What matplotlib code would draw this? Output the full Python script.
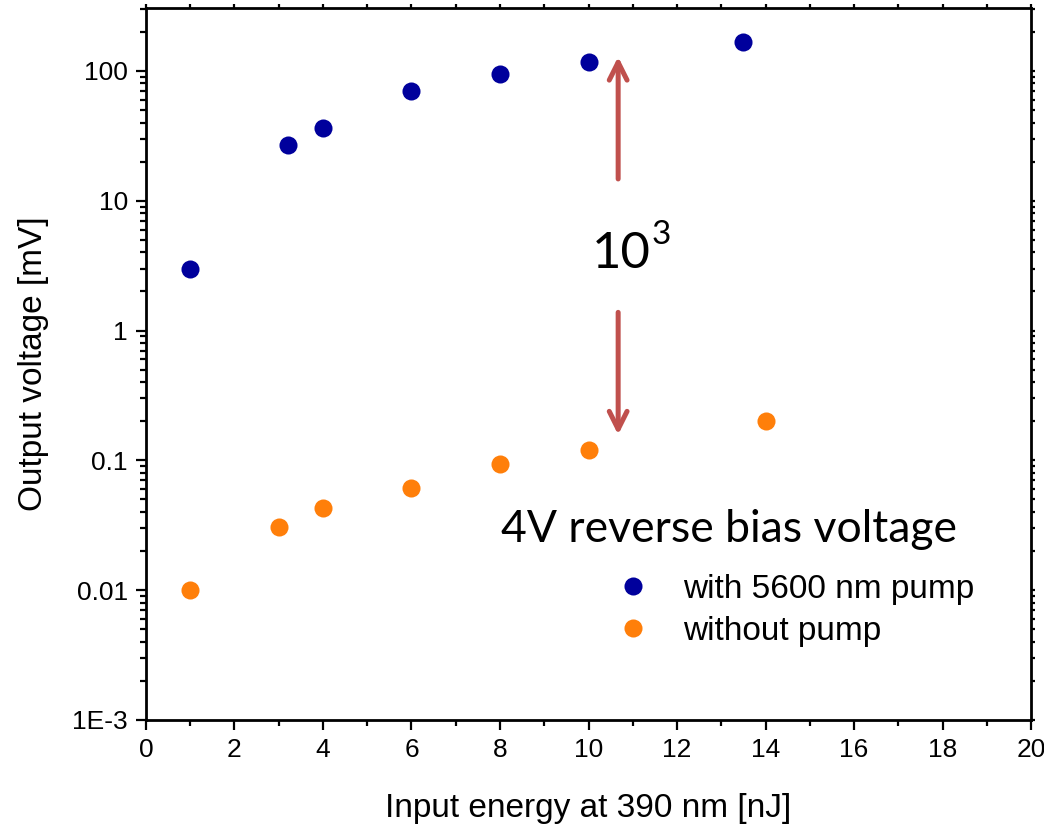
import matplotlib
matplotlib.use("Agg")
import matplotlib.pyplot as plt
from matplotlib.ticker import FixedLocator, FixedFormatter, LogLocator, NullFormatter, MultipleLocator

plt.rcParams['font.family'] = ['Liberation Sans', 'DejaVu Sans']

# Data
x_pump = [1, 3.2, 4, 6, 8, 10, 13.5]
y_pump = [3.0, 27, 36.5, 70, 95, 117, 167]
x_nopump = [1, 3, 4, 6, 8, 10, 14]
y_nopump = [0.010, 0.0305, 0.043, 0.061, 0.093, 0.12, 0.20]
label_pump = "with 5600 nm pump"
label_nopump = "without pump"
y_ticks = [1e-3, 1e-2, 1e-1, 1, 10, 100]
y_ticklabels = ["1E-3", "0.01", "0.1", "1", "10", "100"]
x_ticks = [0, 2, 4, 6, 8, 10, 12, 14, 16, 18, 20]

fig = plt.figure(figsize=(10.44, 8.27), dpi=100)
ax = fig.add_axes([0.1398, 0.1294, 0.9876 - 0.1398, 0.9903 - 0.1294])

ax.plot(x_pump, y_pump, 'o', color='#00009C', markersize=13, markeredgewidth=0, label=label_pump)
ax.plot(x_nopump, y_nopump, 'o', color='#FF7F0A', markersize=13, markeredgewidth=0, label=label_nopump)

ax.set_yscale('log')
ax.set_xlim(0, 20)
ax.set_ylim(1e-3, 305)

ax.xaxis.set_major_locator(FixedLocator(x_ticks))
ax.xaxis.set_minor_locator(MultipleLocator(1))
ax.yaxis.set_major_locator(FixedLocator(y_ticks))
ax.yaxis.set_major_formatter(FixedFormatter(y_ticklabels))
ax.yaxis.set_minor_locator(LogLocator(base=10, subs=range(2, 10), numticks=20))
ax.yaxis.set_minor_formatter(NullFormatter())

for s in ax.spines.values():
    s.set_linewidth(2.0)

ax.tick_params(which='major', direction='out', length=7, width=1.6, labelsize=19, pad=6)
ax.tick_params(which='minor', direction='out', length=4.5, width=1.6)
ax.tick_params(axis='x', which='both', top=True)
ax.tick_params(axis='y', which='both', right=True)
for t in ax.xaxis.get_major_ticks() + ax.xaxis.get_minor_ticks():
    t.tick2line.set_markersize(3)
for t in ax.yaxis.get_major_ticks() + ax.yaxis.get_minor_ticks():
    t.tick2line.set_markersize(3)

ax.set_xlabel("Input energy at 390 nm [nJ]", fontsize=24, labelpad=22)
ax.set_ylabel("Output voltage [mV]", fontsize=24, labelpad=17)

arrow_color = '#C0504D'
ax.annotate('', xy=(10.67, 135), xytext=(10.67, 14),
            arrowprops=dict(arrowstyle='->', color=arrow_color, lw=3.6, mutation_scale=32))
ax.annotate('', xy=(10.67, 0.15), xytext=(10.67, 1.45),
            arrowprops=dict(arrowstyle='->', color=arrow_color, lw=3.6, mutation_scale=32))

calibri_like = ['Lato', 'DejaVu Sans']
ax.text(10.73, 3.05, "10", fontsize=36.5, ha='center', va='baseline', family=calibri_like)
ax.text(11.42, 4.6, "3", fontsize=24, ha='left', va='baseline', family=calibri_like)
ax.text(13.17, 0.0234, "4V reverse bias voltage", fontsize=32, ha='center', va='baseline',
        family=calibri_like)

leg = ax.legend(loc='center left', bbox_to_anchor=(0.516, 0.154), frameon=False,
                fontsize=24, handlelength=1.0, handletextpad=1.0, labelspacing=0.33,
                borderaxespad=0)

fig.savefig("out.png", dpi=100)
